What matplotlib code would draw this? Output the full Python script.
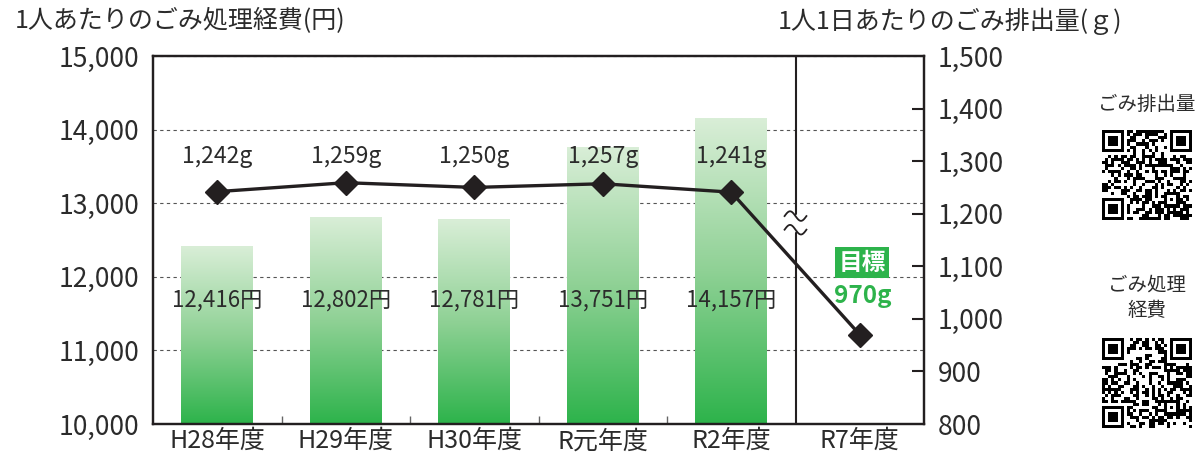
import hashlib
import numpy as np
import matplotlib
matplotlib.use("Agg")
import matplotlib.pyplot as plt
from matplotlib.colors import LinearSegmentedColormap
from matplotlib.transforms import blended_transform_factory

plt.rcParams['font.family'] = ['Noto Sans CJK JP', 'DejaVu Sans']

# ---- data ----
categories = ["H28年度", "H29年度", "H30年度", "R元年度", "R2年度", "R7年度"]
cost_years = ["H28年度", "H29年度", "H30年度", "R元年度", "R2年度"]
cost_values = [12416, 12802, 12781, 13751, 14157]          # 円
waste_values = [1242, 1259, 1250, 1257, 1241, 970]          # g
waste_labels = ["1,242g", "1,259g", "1,250g", "1,257g", "1,241g"]
cost_labels = ["12,416円", "12,802円", "12,781円", "13,751円", "14,157円"]
target_label = "970g"
left_ticks = [10000, 11000, 12000, 13000, 14000, 15000]
right_ticks = [800, 900, 1000, 1100, 1200, 1300, 1400, 1500]

GREEN = "#2db34b"
DARK = "#231f20"
TEXT = "#2b2b2b"

W, H = 1202, 454
fig = plt.figure(figsize=(W / 100, H / 100), dpi=100)
ax = fig.add_axes([153 / W, 1 - 424 / H, (924 - 153) / W, (424 - 56) / H])
ax2 = ax.twinx()

x = np.arange(len(categories))
xc = np.arange(len(cost_values))

# bars with vertical gradient (light at top, green at bottom)
cmap = LinearSegmentedColormap.from_list("g", ["#d9eed7", "#8fd195", GREEN])
bars = ax.bar(xc, cost_values, width=0.56, bottom=0, color="none", zorder=2)
grad = np.linspace(1, 0, 256).reshape(-1, 1)
for b in bars:
    x0 = b.get_x()
    x1 = x0 + b.get_width()
    top = b.get_height()
    ax.imshow(grad, extent=[x0, x1, 10000, top], origin="lower", aspect="auto",
              cmap=cmap, vmin=0, vmax=1, zorder=2, interpolation="bilinear")

for xi, lab in zip(xc, cost_labels):
    ax.text(xi, 11690, lab, ha="center", va="center", fontsize=16, color=TEXT, zorder=4)

ax.set_xlim(-0.5, len(categories) - 0.5)
ax.set_ylim(10000, 15000)
ax.set_yticks(left_ticks)
ax.set_yticklabels([f"{v:,}" for v in left_ticks])
ax.tick_params(axis="y", length=0, pad=10, labelsize=19, labelcolor=TEXT)
ax.set_xticks(x)
ax.set_xticklabels(categories)
ax.tick_params(axis="x", length=0, pad=3, labelsize=18, labelcolor=TEXT)
ax.set_xticks([0.5, 1.5, 2.5, 3.5], minor=True)
ax.tick_params(axis="x", which="minor", direction="in", length=6, width=1, color="#666666")
ax.grid(axis="y", linestyle=(0, (3, 3)), color="#555555", linewidth=0.8)
ax.set_axisbelow(True)
for s in ax.spines.values():
    s.set_color(DARK)
    s.set_linewidth(1.6)

# separator and break mark
ax.axvline(4.5, color=DARK, linewidth=1.5, zorder=3)
tr = blended_transform_factory(ax.transData, ax.transAxes)
tt = np.linspace(-0.085, 0.085, 60)
wave = 0.013 * np.sin(tt / 0.085 * np.pi)
ya, yb = 0.565, 0.528
ax.fill_between(4.5 + tt, ya + wave, yb + wave, color="white", transform=tr, zorder=3.5)
ax.plot(4.5 + tt, ya - wave, color=DARK, lw=1.3, transform=tr, zorder=3.6)
ax.plot(4.5 + tt, yb - wave, color=DARK, lw=1.3, transform=tr, zorder=3.6)

# line on secondary axis
ax2.plot(x, waste_values, color=DARK, lw=2.4, marker="D", markersize=12,
         markerfacecolor=DARK, markeredgecolor=DARK, zorder=5)
for xi, lab in zip(x[:5], waste_labels):
    ax2.text(xi, 1308, lab, ha="center", va="center", fontsize=16.5, color=TEXT, zorder=6)
ax2.set_ylim(800, 1500)
ax2.set_yticks(right_ticks)
ax2.set_yticklabels([f"{v:,}" for v in right_ticks])
ax2.tick_params(axis="y", direction="in", length=9, width=1.5, color=DARK, pad=10,
                labelsize=19, labelcolor=TEXT)
for s in ax2.spines.values():
    s.set_color(DARK)
    s.set_linewidth(1.6)
for t in ax2.yaxis.get_major_ticks():
    if t.get_loc() in (800, 1500):
        t.tick1line.set_visible(False)
        t.tick2line.set_visible(False)

ax2.text(5.02, 1107, "目標", ha="center", va="center", fontsize=17, fontweight="bold",
         color="white", zorder=6,
         bbox=dict(boxstyle="square,pad=0.15", fc=GREEN, ec="none"))
ax2.text(5.02, 1044, target_label, ha="center", va="center", fontsize=17.5,
         fontweight="bold", color=GREEN, zorder=6)

# titles
fig.text(15 / W, 1 - 21 / H, "1人あたりのごみ処理経費(円)", ha="left", va="center",
         fontsize=18, color=TEXT)
fig.text(778 / W, 1 - 21 / H, "1人1日あたりのごみ排出量(ｇ)", ha="left", va="center",
         fontsize=18, color=TEXT)

# QR code placeholders
def qr_matrix(seed, n=29):
    bits = []
    h = seed.encode()
    while len(bits) < n * n:
        h = hashlib.sha256(h).digest()
        for byte in h:
            for k in range(8):
                bits.append((byte >> k) & 1)
    m = np.array(bits[:n * n]).reshape(n, n)
    def finder(r, c):
        m[max(r - 1, 0):r + 8, max(c - 1, 0):c + 8] = 0
        m[r:r + 7, c:c + 7] = 1
        m[r + 1:r + 6, c + 1:c + 6] = 0
        m[r + 2:r + 5, c + 2:c + 5] = 1
    finder(0, 0)
    finder(0, n - 7)
    finder(n - 7, 0)
    m[n - 9:n - 4, n - 9:n - 4] = 1
    m[n - 8:n - 5, n - 8:n - 5] = 0
    m[n - 7, n - 7] = 1
    return m

for seed, top in (("gomi-haishutsu", 130), ("gomi-shori", 338)):
    qa = fig.add_axes([1102 / W, 1 - (top + 90) / H, 90 / W, 90 / H])
    qa.imshow(qr_matrix(seed), cmap="gray_r", interpolation="nearest")
    qa.axis("off")

fig.text(1147 / W, 1 - 104 / H, "ごみ排出量", ha="center", va="center", fontsize=14, color=TEXT)
fig.text(1147 / W, 1 - 285 / H, "ごみ処理", ha="center", va="center", fontsize=14, color=TEXT)
fig.text(1147 / W, 1 - 311 / H, "経費", ha="center", va="center", fontsize=14, color=TEXT)

fig.savefig("out.png", dpi=100)
